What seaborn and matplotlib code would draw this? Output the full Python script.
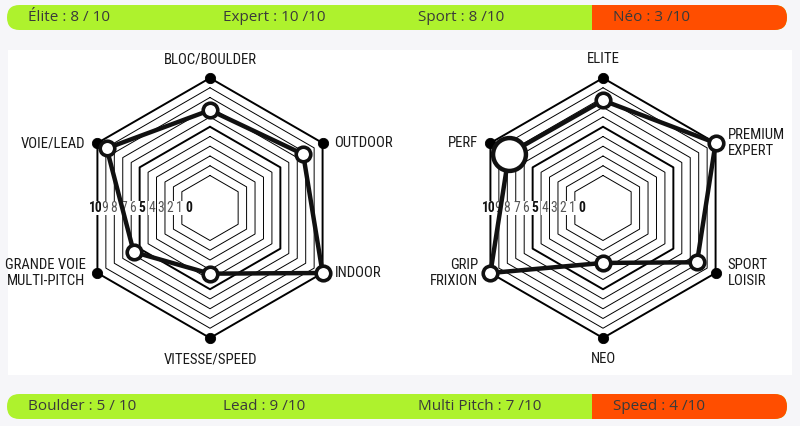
import numpy as np
import pandas as pd
import matplotlib.pyplot as plt
from matplotlib import font_manager
from matplotlib.patches import FancyBboxPatch, Rectangle
import seaborn as sns

# data ...............................................................
left_axes = ['BLOC/BOULDER', 'OUTDOOR', 'INDOOR', 'VITESSE/SPEED',
             'GRANDE VOIE\nMULTI-PITCH', 'VOIE/LEAD']
left_values = [6.7, 7.7, 10, 3.4, 5.7, 8.9]

right_axes = ['ELITE', 'PREMIUM\nEXPERT', 'SPORT\nLOISIR', 'NEO',
              'GRIP\nFRIXION', 'PERF']
right_values = [7.7, 10, 7.8, 2.3, 10, 7.8]
right_big = 'PERF'

top_labels = ['Élite : 8 / 10', 'Expert : 10 /10', 'Sport : 8 /10', 'Néo : 3 /10']
bottom_labels = ['Boulder : 5 / 10', 'Lead : 9 /10', 'Multi Pitch : 7 /10', 'Speed : 4 /10']
ring_ticks = list(range(10, -1, -1))

GREEN = '#aef22d'
ORANGE = '#ff4e00'
UI = ['Open Sans', 'DejaVu Sans']

# look for a narrow font, the original uses a condensed face
installed = {f.name for f in font_manager.fontManager.ttflist}
narrow = [n for n in ['Liberation Sans Narrow', 'Roboto Condensed', 'Open Sans Condensed',
                      'DejaVu Sans Condensed', 'Noto Sans Condensed'] if n in installed]
if narrow:
    COND = [narrow[0], 'DejaVu Sans']
    lab_size, num_size = 10.6, 9.8
else:
    COND = ['DejaVu Sans']
    lab_size, num_size = 9, 7.5

sns.set_theme(style='white')

fig = plt.figure(figsize=(8, 4.26), dpi=100)
fig.patch.set_facecolor('#f6f6f9')
ax = fig.add_axes([0, 0, 1, 1])
ax.set_xlim(0, 800)
ax.set_ylim(426, 0)
ax.axis('off')

ax.add_patch(Rectangle((8, 50), 784, 325, facecolor='white', edgecolor='none', zorder=0))

R0, R10 = 32.5, 130.0
COS30 = np.cos(np.deg2rad(30))
angles = np.deg2rad([90, 30, -30, -90, -150, 150])


def radius(v):
    return R0 + np.asarray(v) * (R10 - R0) / 10


def hexpts(cx, cy, r):
    x = cx + r * np.cos(angles)
    y = cy - r * np.sin(angles)
    return np.append(x, x[0]), np.append(y, y[0])


def radar(cx, cy, names, values, big=None):
    # rings
    for t in ring_ticks:
        x, y = hexpts(cx, cy, radius(t))
        lw = 1.4 if t in (10, 5) else 0.7
        ax.plot(x, y, color='black', lw=lw, zorder=1)
    # ring numbers along the left vertical edges
    num_x = np.linspace(cx - radius(10) * COS30 - 2, cx - radius(0) * COS30 + 7, len(ring_ticks))
    for t, xr in zip(ring_ticks, num_x):
        bold = t in (10, 5, 0)
        ax.text(xr, cy, str(t), ha='center', va='center', fontsize=num_size,
                family=COND, fontstretch='condensed', fontweight='bold' if bold else 'normal',
                color='#111111' if bold else '#555555', zorder=2,
                bbox=dict(boxstyle='square,pad=0.02', fc='white', ec='none'))
    # outer vertex dots
    ox, oy = hexpts(cx, cy, radius(10))
    sns.scatterplot(x=ox[:-1], y=oy[:-1], s=55, color='black', edgecolor='black',
                    ax=ax, zorder=3, legend=False)
    # data polyline
    r = radius(values)
    df = pd.DataFrame({'axe': names, 'x': cx + r * np.cos(angles), 'y': cy - r * np.sin(angles)})
    closed = pd.concat([df, df.iloc[:1]], ignore_index=True)
    sns.lineplot(data=closed, x='x', y='y', sort=False, estimator=None, color='#111111',
                 lw=3.2, ax=ax, zorder=4)
    small = df[df['axe'] != big]
    sns.scatterplot(data=small, x='x', y='y', s=110, color='white', edgecolor='#111111',
                    linewidth=2.6, ax=ax, zorder=5, legend=False)
    if big is not None:
        sns.scatterplot(data=df[df['axe'] == big], x='x', y='y', s=560, color='white',
                        edgecolor='#111111', linewidth=3.2, ax=ax, zorder=5, legend=False)
    # axis names
    lab_r = radius(10)
    for name, a in zip(names, angles):
        ca, sa = np.cos(a), np.sin(a)
        if abs(ca) < 0.01:
            x, y = cx, cy - (lab_r + (19 if sa > 0 else 21)) * sa
            ha = 'center'
        else:
            x = cx + lab_r * ca + (12 if ca > 0 else -12)
            y = cy - lab_r * sa
            ha = 'left' if ca > 0 else 'right'
        ax.text(x, y, name, ha=ha, va='center', fontsize=lab_size, family=COND,
                fontstretch='condensed', color='#1a1a1a', linespacing=1.1, zorder=6)


radar(210, 208, left_axes, left_values)
radar(603, 208, right_axes, right_values, big=right_big)


def score_bar(y0, labels):
    h = 25
    ax.add_patch(FancyBboxPatch((7, y0), 780, h, boxstyle=f'round,pad=0,rounding_size={h / 2}',
                                facecolor=GREEN, edgecolor='none', zorder=1))
    ax.add_patch(FancyBboxPatch((592, y0), 195, h, boxstyle=f'round,pad=0,rounding_size={h / 2}',
                                facecolor=ORANGE, edgecolor='none', zorder=2))
    ax.add_patch(Rectangle((592, y0), 30, h, facecolor=ORANGE, edgecolor='none', zorder=2))
    for lab, x in zip(labels, [28, 223, 418, 613]):
        ax.text(x, y0 + h / 2, lab, ha='left', va='center', fontsize=11, family=UI,
                color='#3a3a3a', zorder=3)


score_bar(5, top_labels)
score_bar(394, bottom_labels)

plt.savefig('out.png', dpi=100, facecolor=fig.get_facecolor())
plt.close()
